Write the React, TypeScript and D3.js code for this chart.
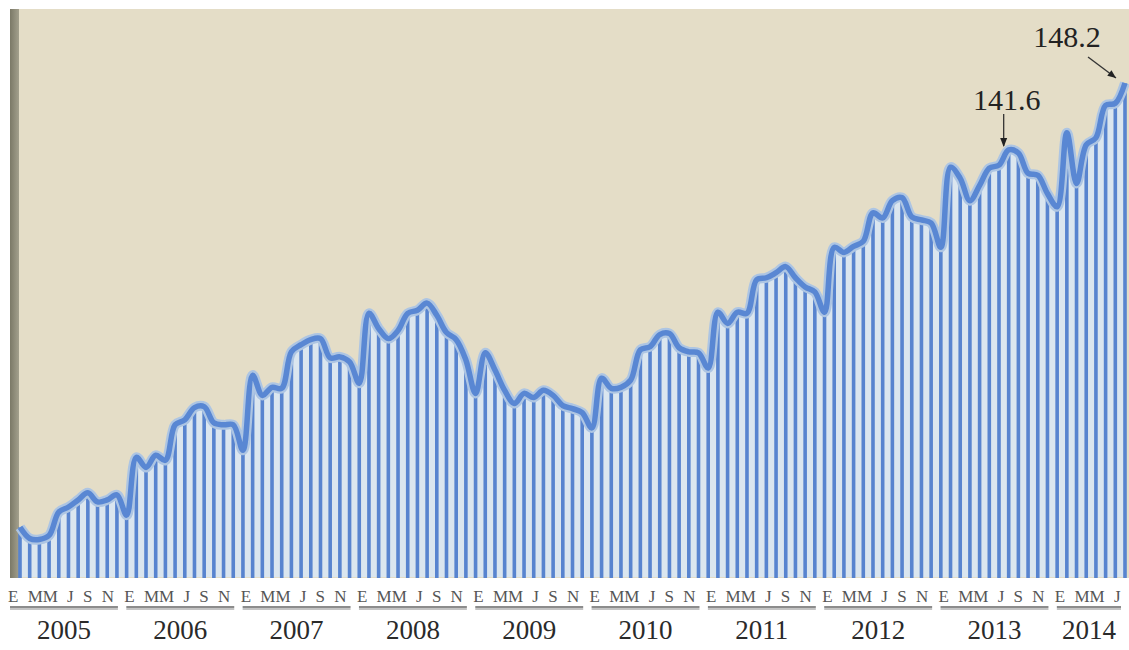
import * as d3 from 'd3';

// Monthly index values, Jan 2005 – Jul 2014
const YEARS = [2005, 2006, 2007, 2008, 2009, 2010, 2011, 2012, 2013, 2014];
const MONTH_LETTERS = ['E', 'M', 'M', 'J', 'S', 'N'];
const LABEL_MONTHS = [0, 2, 4, 6, 8, 10];

const V2005 = [104.4, 103.3, 103.2, 103.6, 105.9, 106.4, 107.1, 107.8, 106.9, 107.1, 107.6, 105.6];
const V2006 = [111.3, 110.3, 111.5, 111.0, 114.5, 115.0, 116.2, 116.3, 114.7, 114.5, 114.5, 112.0];
const V2007 = [119.4, 117.4, 118.2, 118.1, 121.7, 122.4, 122.9, 123.0, 121.1, 121.2, 120.7, 118.6];
const V2008 = [125.5, 124.0, 123.0, 123.8, 125.5, 125.8, 126.5, 125.3, 123.6, 122.9, 120.9, 117.6];
const V2009 = [121.6, 119.9, 117.9, 116.6, 117.6, 117.2, 117.9, 117.4, 116.4, 116.1, 115.7, 114.2];
const V2010 = [119.1, 118.1, 118.2, 118.9, 121.9, 122.2, 123.4, 123.5, 122.1, 121.7, 121.6, 120.1];
const V2011 = [125.6, 124.5, 125.6, 125.5, 128.8, 129.0, 129.5, 130.1, 129.0, 128.1, 127.6, 125.6];
const V2012 = [132.0, 131.5, 132.1, 132.6, 135.4, 134.9, 136.6, 136.9, 135.0, 134.7, 134.4, 132.0];
const V2013 = [139.9, 138.8, 136.6, 138.1, 139.8, 140.1, 141.6, 141.3, 139.3, 139.1, 137.3, 136.0];
const V2014 = [143.3, 138.3, 142.1, 142.8, 146.0, 146.2, 148.2];

const SERIES = [V2005, V2006, V2007, V2008, V2009, V2010, V2011, V2012, V2013, V2014];
const VALUES = SERIES.flat();

const CALLOUTS = [
  { label: '141.6', index: 102 },
  { label: '148.2', index: 114 },
];

const W = 1129;
const H = 650;
const BOTTOM = 577;
const FONT = '"Liberation Serif", "Times New Roman", serif';

export default function App() {
  const x = d3.scaleLinear().domain([0, VALUES.length - 1]).range([20, 1125]);
  const y = d3.scaleLinear().domain([99.5, 148.2]).range([BOTTOM, 83]);

  const curve = d3.curveCatmullRom.alpha(0.5);
  const line = d3.line<number>().x((_, i) => x(i)).y(d => y(d)).curve(curve);
  const area = d3.area<number>().x((_, i) => x(i)).y0(BOTTOM).y1(d => y(d)).curve(curve);

  let offset = 0;
  const yearGroups = YEARS.map((year, k) => {
    const start = offset;
    const count = SERIES[k].length;
    offset += count;
    const letters = MONTH_LETTERS.filter((_, j) => LABEL_MONTHS[j] < count);
    const lastMonth = LABEL_MONTHS[letters.length - 1];
    const x0 = x(start) - 10;
    const x1 = Math.min(x(start + lastMonth) + 1, x(VALUES.length - 1) - 4);
    // "E MM J S N" grouping as in the original axis
    const text = letters.map((l, j) => (j === 0 || j === 2 ? l : ' ' + l)).join('');
    return { year, x0, x1, text };
  });

  return (
    <div>
      <style>{`body{margin:0;background:#fff}`}</style>
      <svg width={W} height={H} style={{ display: 'block' }}>
        <defs>
          <linearGradient id="wall" x1="0" x2="1" y1="0" y2="0">
            <stop offset="0" stopColor="#7b7967" />
            <stop offset="1" stopColor="#a3a08d" />
          </linearGradient>
        </defs>

        {/* plot background */}
        <rect x={19} y={9} width={W - 19} height={BOTTOM + 1 - 9} fill="#e4ddc7" />
        <rect x={10} y={9} width={9} height={BOTTOM + 1 - 9} fill="url(#wall)" />

        {/* fill under the curve */}
        <path d={area(VALUES) ?? ''} fill="#dbe6ef" />

        {/* monthly bars */}
        {VALUES.map((v, i) => (
          <rect key={i} x={x(i) - 1.8} y={y(v)} width={3.6} height={BOTTOM + 1 - y(v)} fill="#5884cf" />
        ))}

        {/* smoothed line */}
        <path d={line(VALUES) ?? ''} fill="none" stroke="#adc5e3" strokeWidth={10} strokeLinejoin="round" />
        <path d={line(VALUES) ?? ''} fill="none" stroke="#5987d3" strokeWidth={5.5} strokeLinejoin="round" />

        {/* callouts */}
        {CALLOUTS.map(c => {
          const px = x(c.index);
          const py = y(VALUES[c.index]);
          if (c.index === VALUES.length - 1) {
            const ax0 = px - 37, ay0 = py - 26, ax1 = px - 9, ay1 = py - 5;
            const ang = Math.atan2(ay1 - ay0, ax1 - ax0);
            const a1 = ang + Math.PI - 0.4, a2 = ang + Math.PI + 0.4;
            return (
              <g key={c.label}>
                <text x={px - 58} y={py - 36} textAnchor="middle" fontFamily={FONT} fontSize={30} fill="#222">{c.label}</text>
                <line x1={ax0} y1={ay0} x2={ax1} y2={ay1} stroke="#333" strokeWidth={1.3} />
                <path d={`M${ax1},${ay1}L${ax1 + 9 * Math.cos(a1)},${ay1 + 9 * Math.sin(a1)}L${ax1 + 9 * Math.cos(a2)},${ay1 + 9 * Math.sin(a2)}Z`} fill="#222" />
              </g>
            );
          }
          return (
            <g key={c.label}>
              <text x={px - 2} y={py - 40} textAnchor="middle" fontFamily={FONT} fontSize={30} fill="#222">{c.label}</text>
              <line x1={px - 5} y1={py - 36} x2={px - 5} y2={py - 4} stroke="#333" strokeWidth={1.3} />
              <path d={`M${px - 5},${py - 3}L${px - 8.5},${py - 12}L${px - 1.5},${py - 12}Z`} fill="#222" />
            </g>
          );
        })}

        {/* month letters, underline, years */}
        {yearGroups.map(g => (
          <g key={g.year}>
            <text x={g.x0 - 2} y={602} fontFamily={FONT} fontSize={17} fill="#555" wordSpacing={5} style={{ whiteSpace: 'pre' }}>
              {g.text}
            </text>
            <line x1={g.x0} x2={g.x1} y1={609} y2={609} stroke="#c4c4c4" strokeWidth={2} />
            <line x1={g.x0} x2={g.x1} y1={607} y2={607} stroke="#666" strokeWidth={1.3} />
            <text x={(g.x0 + g.x1) / 2} y={639} textAnchor="middle" fontFamily={FONT} fontSize={27} fill="#2a2a2a">
              {g.year}
            </text>
          </g>
        ))}
      </svg>
    </div>
  );
}
